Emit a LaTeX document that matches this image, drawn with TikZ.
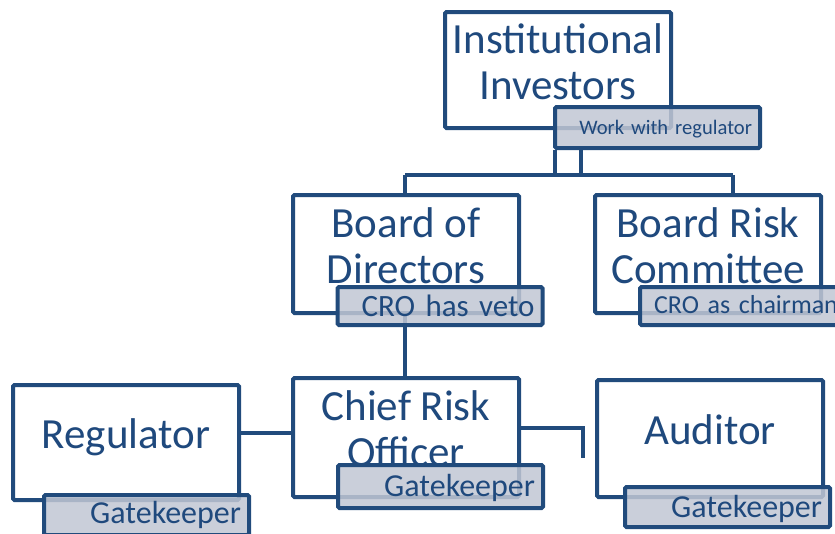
\documentclass[tikz,border=0pt]{standalone}
\usepackage{fontspec}
\setmainfont{Carlito}
\usepackage{tikz}
\usetikzlibrary{positioning,calc}
\definecolor{navy}{HTML}{1F497D}
\definecolor{edge}{HTML}{214B7C}
\definecolor{tagfill}{RGB}{193,199,212}
\tikzset{
  orgbox/.style={draw=edge,line width=4pt,fill=white,rounded corners=1.5pt,
    minimum width=226pt,inner sep=0pt,align=center,text=navy,text depth=17pt,
    font=\fontsize{43}{46}\selectfont},
  tagbox/.style={draw=edge,line width=4pt,fill=tagfill,fill opacity=0.85,text opacity=1,
    rounded corners=1.5pt,minimum height=40pt,inner ysep=0pt,inner xsep=8pt,
    text width=189pt,align=right,text=navy,text height=22pt,text depth=2pt,
    font=\fontsize{32}{34}\selectfont},
  conn/.style={draw=edge,line width=4pt,line join=miter}
}
\begin{document}
\begin{tikzpicture}[x=1pt,y=-1pt]
\clip (0,0) rectangle (835,533);
\fill[white] (0,0) rectangle (835,533);
%Verteiler unter den Investoren
\coordinate (busL) at (405,175);
\coordinate (busR) at (733,175);
\coordinate (audend) at (583,458);
%Kästen
\node[orgbox,minimum height=116pt] (inv) at (558,70) {Institutional\\Investors};
\node[orgbox,minimum height=118pt] (bod) at (406,254) {Board of\\Directors};
\node[orgbox,minimum height=118pt] (brc) at (708,254) {Board Risk\\Committee};
\node[orgbox,minimum height=115pt,text depth=18pt] (reg) at (126,442.5) {Regulator};
\node[orgbox,minimum height=119pt] (cro) at (406,437.5) {Chief Risk\\Officer};
\node[orgbox,minimum height=117pt,text depth=18pt] (aud) at (710,438.5) {Auditor};
%Linien
\draw[conn] (busL) -- (busR);
\draw[conn] (busL) -- (busL |- bod.north);
\draw[conn] (busR) -- (busR |- brc.north);
\draw[conn] (busL |- bod.south) -- (busL |- cro.north);
\draw[conn] ([yshift=9.5pt]reg.east) -- ([yshift=9.5pt]reg.east -| cro.west);
\draw[conn] ([yshift=9.5pt]cro.east) -| (audend);
%Zusatzfelder
\node[tagbox,minimum height=41pt,text height=17pt,text depth=4pt,
  font=\fontsize{20.6}{24}\selectfont] (invtag) at (657.5,127.5) {Work with regulator};
\draw[conn] ([xshift=2pt]invtag.south west) -- ([xshift=2pt]invtag.south west |- busL);
\draw[conn] ([xshift=28pt]invtag.south west) -- ([xshift=28pt]invtag.south west |- busL);
\node[tagbox,minimum height=38pt,font=\fontsize{31}{34}\selectfont] (bodtag) at (440,306) {CRO has veto};
\node[tagbox,minimum height=38pt,text width=230pt,inner xsep=14pt,align=left,
  text height=20pt,text depth=6pt,font=\fontsize{26}{30}\selectfont] (brctag) at (769,306) {CRO as chairman};
\node[tagbox,minimum height=43pt] (crotag) at (440.5,486.5) {Gatekeeper};
\node[tagbox,minimum height=40pt,text height=20pt,text depth=4pt] (regtag) at (146.5,515) {Gatekeeper};
\node[tagbox,minimum height=40pt] (audtag) at (727.5,507) {Gatekeeper};
\end{tikzpicture}
\end{document}
